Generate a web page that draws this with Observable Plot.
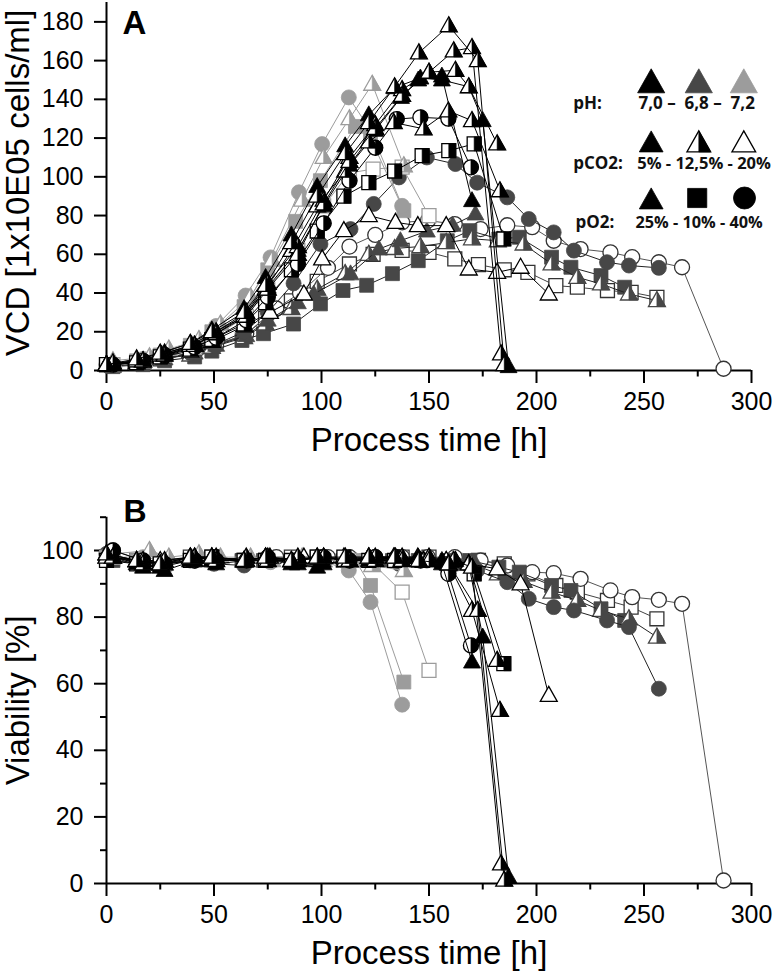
<!DOCTYPE html>
<html><head><meta charset="utf-8">
<script src="https://cdn.jsdelivr.net/npm/d3@7"></script>
<script src="https://cdn.jsdelivr.net/npm/@observablehq/plot@0.6"></script>
<style>
body{margin:0;background:#fff;}
#chart svg{display:block;}
</style></head><body><div id="chart"></div>
<script>
// ---------- axis ticks ----------
const TICKS_X = [0,50,100,150,200,250,300];
const MINOR_X = [25,75,125,175,225,275];
const TICKS_VCD = [0,20,40,60,80,100,120,140,160,180];
const TICKS_VIA = [0,20,40,60,80,100];
const MINOR_VIA = [10,30,50,70,90,110];

// ---------- data (time [h], VCD [1x10E05 cells/ml], viability [%]) ----------
// black open square
const t_oSq   = [0,14,25,39,49,64,74,86,98,113,124,137.5,150,162,173,185,196,209,219,233,244,256];
const vcd_oSq = [3,4,6,9,13,18,27,36,46,55,60,62,61,57.6,54.7,52,50.7,43.8,43,41.3,40.4,37.8];
const via_oSq = [98,97,96,98,98,97,97,98,98,97,97,98,98,97,97,96,93,89.5,87.5,85,83,79.5];
// black open circle
const t_oCirc   = [3,17,27,41,51,65,79,90,103,113,125,137.5,149.5,162,174,186.4,198,208,220.5,234.4,244.5,256.9,267.7,287];
const vcd_oCirc = [3,4,6,9,13,19,32,40,53,64,70,76.5,77.4,75.6,73,75,74,67,62.7,61,58.5,55.9,53.3,0.9];
const via_oCirc = [100,97,96,97,98,97,98,97,98,98,98,98,98,98,97,95.5,93.5,93.2,91.5,88,86,85.2,84,0.9];
// dark grey square
const t_dSq   = [3,17,27,41,49,63,73,87,99.5,110,121,133,145,158.5,169,182.5,192,207,216,230,241];
const vcd_dSq = [2,3,5,7,10,15.5,19,24,34.4,41.3,44,50,56.7,67,72.2,67.9,68.8,58.5,53.3,49,43];
const via_dSq = [97,96,96,97,97,97,97,97,97,97,97,97,97,97,97,95,93.5,89.5,88,82.5,79];
// dark grey half triangle
const t_dHT   = [0,14,25,39,49,64,74,86,98,111,122,134,146,158,170,182,194,207,219,230,243,256];
const vcd_dHT = [3,4,6,8,12,17,24,32,42,50,60,63,64,66,68,67,65.3,55,48.1,44.7,39.5,36.1];
const via_dHT = [98,97,96,97,97,97,98,97,97,98,98,97,97,97,96,93,90.7,87.5,85,82,79.5,74];
// dark grey triangle
const t_dT   = [3,17,27,41,51,65,75,89,96.4,113.5,126.7,136.7,149,161,171.6];
const vcd_dT = [2,4,6,9,13,18,26,35,39.5,49.9,62.7,67,72,75,80.8];
const via_dT = [98,97,96,97,97,97,97,97,97,97,97,97,97,97,96];
// dark grey circle
const t_dCirc   = [0,14,25,39,50,64,75,87,99.5,113.5,124.3,136,149,162.3,172.4,186.4,196.4,208,217.4,232.8,243,256.9];
const vcd_dCirc = [3,4,6,9,13,20,30,45,65.3,73,86,99.7,110,106.6,97,89.4,78.2,71.3,61.9,55.9,54.2,53];
const via_dCirc = [99,97,96,97,96,95.5,97,97,97,97,97,96,97,96,94,90.5,85.5,83,82,79,77,58.5];
// light grey circle
const t_lCirc   = [3,17,27,41,51,64.7,76.3,89.5,100.3,112.7,122.8,137.5];
const vcd_lCirc = [3,6,9,14,23,38.7,58.4,92,116.9,141,124,85];
const via_lCirc = [98,98,97,98,97,97,96.5,97,97,94,84.5,53.7];
// light grey square
const t_lSq   = [0,14,25,39,49,64,75,88,99.5,115.8,122.8,138.3];
const vcd_lSq = [3,5,8,13,20,33,52,77,98,126,120,82.5];
const via_lSq = [98,97,96,97,97,97,97,97,98,97,89.5,60.5];
// light grey open square
const t_lOSq   = [3,17,27,41,51,65,75,89,101,113,124,137.5,150];
const vcd_lOSq = [3,5,8,12,18,28,42,62,85,102,104,105,80];
const via_lOSq = [98,97,96,97,97,97,97,97,97,97,96,87.5,64];
// light grey half triangle
const t_lHT   = [3,20,29,43,53,67,77,91,101,113,123.6,138.3];
const vcd_lHT = [5,7,11,16,24,38,57,88,110,130,147.8,105.7];
const via_lHT = [99,100,98,99,98,98,97,98,97,97,95.5,94];
// black open triangle
const t_kOT   = [0,14,25,39,49,64,76,91.8,100.3,110.4,122,134.4,144.8,158,168.5,181.7,192.6,205.7];
const vcd_kOT = [3,4,7,10,15,23,30,39.5,57.6,72.2,80,76.5,74.8,74.8,52.4,50.7,53.3,39.5];
const via_kOT = [99,97,97,98,98,97,98,98,97,98,98,98,98,97,96,94.5,90,56.5];
// black half square
const t_kHS   = [0,14,25,39,49,64,74,86,98,110.4,122,134,146.8,159.2,171,184.8];
const vcd_kHS = [3,4,7,11,16,24,35,52,72,90,97,103,110.9,113.5,117,67.9];
const via_kHS = [97,96,96,97,98,97,97,97,98,98,97,97,97,96,93,66];
// black half circle
const t_kHC   = [3,17,27,41,51,65,75,89,101,113,125,135,146,159,169.5];
const vcd_kHC = [3,5,8,12,17,26,38,55,76,98,115,129.8,130.7,130,104.9];
const via_kHC = [100,97,96,97,97,97,98,97,98,97,98,98,97,93,71.5];
// black triangle (short)
const t_kT2   = [3,17,27,41,51,65,75,89,101,113,125,137,145,156,170];
const vcd_kT2 = [3,5,8,13,19,29,43,62,85,106,124,141,150,152,87.7];
const via_kT2 = [98,95,94,97,96,97,97,96,96,97,97,97,98,96,66.5];
// black triangle (long)
const t_kT   = [0,14,25,39,49,64,74,86,98,111,122,134,146,156,168.5,175,187];
const vcd_kT = [3,5,9,14,21,32,48,70,95,116,132,146,151,150,146.5,129,2];
const via_kT = [99,96,95,97,97,97,98,96,95,97,97,98,97,97,96,74,1.9];
// black half triangles (centre point replicates)
const t_kHT3   = [0,14,25,39,49,64,74,86,98,111,122,133.6,147.5,159,170,183];
const vcd_kHT3 = [3,5,8,13,19,28,42,62,85,103,118,128,124.8,134,129,92.8];
const via_kHT3 = [98,97,96,98,98,97,98,97,98,97,98,98,97,96,82,52];
const t_kHT4   = [3,17,27,41,51,65,75,89,101,113,125,137.5,150,162.3,168.5,181.7];
const vcd_kHT4 = [3,5,9,13,20,30,45,64,88,110,127,145,154,155,146.5,117];
const via_kHT4 = [98,97,96,98,98,97,98,97,98,97,97,98,98,97,96,67];
const t_kHT2   = [3,17,27,41,51,65,75,89,101,113,125,137.5,150,161.5,170,183.5];
const vcd_kHT2 = [4,5,8,13,19,28,42,60,86,108,125,142,154,165,166.7,8.6];
const via_kHT2 = [98,96,97,98,97,98,97,98,98,97,98,97,97,97,95,5.9];
const t_kHT1   = [0,14,25,39,49,64,74,86,98,111,122,134,145.3,159.2,172.7,185];
const vcd_kHT1 = [3,6,9,14,20,30,44,66,90,112,128,146.5,164,178,160,3];
const via_kHT1 = [99,97,96,98,98,97,98,97,98,98,98,98,97,96,82,1];

// legend texts
const LEG_LABELS = ["pH:", "pCO2:", "pO2:"];
const LEG_VALUES = ["7,0 \u2013\u00a0 6,8 \u2013\u00a0 7,2", "5% - 12,5% - 20%", "25% - 10% - 40%"];

// ---------- styles ----------
const K = "#000000", D = "#474747", L = "#9c9c9c";
const series = [
  {shape:"square", fill:"open", color:"#333", line:"#444", t:t_oSq, vcd:vcd_oSq, via:via_oSq},
  {shape:"circle", fill:"open", color:"#333", line:"#555", t:t_oCirc, vcd:vcd_oCirc, via:via_oCirc},
  {shape:"square", fill:"full", color:D, line:"#222", t:t_dSq, vcd:vcd_dSq, via:via_dSq},
  {shape:"tri", fill:"half", color:D, line:"#222", t:t_dHT, vcd:vcd_dHT, via:via_dHT},
  {shape:"tri", fill:"full", color:D, line:"#222", t:t_dT, vcd:vcd_dT, via:via_dT},
  {shape:"circle", fill:"full", color:D, line:"#222", t:t_dCirc, vcd:vcd_dCirc, via:via_dCirc},
  {shape:"square", fill:"full", color:L, line:L, t:t_lSq, vcd:vcd_lSq, via:via_lSq},
  {shape:"square", fill:"open", color:L, line:L, t:t_lOSq, vcd:vcd_lOSq, via:via_lOSq},
  {shape:"circle", fill:"full", color:L, line:L, t:t_lCirc, vcd:vcd_lCirc, via:via_lCirc},
  {shape:"tri", fill:"half", color:L, line:L, t:t_lHT, vcd:vcd_lHT, via:via_lHT},
  {shape:"tri", fill:"open", color:K, line:K, t:t_kOT, vcd:vcd_kOT, via:via_kOT},
  {shape:"square", fill:"half", color:K, line:K, t:t_kHS, vcd:vcd_kHS, via:via_kHS},
  {shape:"circle", fill:"half", color:K, line:K, t:t_kHC, vcd:vcd_kHC, via:via_kHC},
  {shape:"tri", fill:"full", color:K, line:K, t:t_kT2, vcd:vcd_kT2, via:via_kT2},
  {shape:"tri", fill:"full", color:K, line:K, t:t_kT, vcd:vcd_kT, via:via_kT},
  {shape:"tri", fill:"half", color:K, line:K, t:t_kHT3, vcd:vcd_kHT3, via:via_kHT3},
  {shape:"tri", fill:"half", color:K, line:K, t:t_kHT4, vcd:vcd_kHT4, via:via_kHT4},
  {shape:"tri", fill:"half", color:K, line:K, t:t_kHT2, vcd:vcd_kHT2, via:via_kHT2},
  {shape:"tri", fill:"half", color:K, line:K, t:t_kHT1, vcd:vcd_kHT1, via:via_kHT1}
];

function makeSym(shape, half) {
  return {draw(ctx, size) {
    const r = Math.sqrt(size / Math.PI);
    if (shape === "tri") {
      const a = -1.2 * r, b = 0.8 * r, w = 1.13 * r;
      ctx.moveTo(0, a); ctx.lineTo(w, b); ctx.lineTo(half ? 0 : -w, b); ctx.closePath();
    } else if (shape === "square") {
      const h = 0.93 * r;
      if (half) ctx.rect(0, -h, h, 2 * h); else ctx.rect(-h, -h, 2 * h, 2 * h);
    } else {
      if (half) { ctx.moveTo(0, -r); ctx.arc(0, 0, r, -Math.PI / 2, Math.PI / 2); ctx.closePath(); }
      else { ctx.moveTo(r, 0); ctx.arc(0, 0, r, 0, 2 * Math.PI); ctx.closePath(); }
    }
  }};
}
const SYM = {};
for (const s of ["tri", "square", "circle"]) SYM[s] = {full: makeSym(s, false), half: makeSym(s, true)};

const R = 7.5;
function markerMarks(data, opts, shape, fill, color, r) {
  const m = [];
  if (fill === "full") {
    m.push(Plot.dot(data, {...opts, r, symbol: SYM[shape].full, fill: color, stroke: color, strokeWidth: 0.8}));
  } else {
    m.push(Plot.dot(data, {...opts, r, symbol: SYM[shape].full, fill: "white", stroke: color, strokeWidth: 1.3}));
    if (fill === "half") m.push(Plot.dot(data, {...opts, r, symbol: SYM[shape].half, fill: color, stroke: color, strokeWidth: 0.6}));
  }
  return m;
}
function seriesMarks(key) {
  const marks = [];
  for (const s of series) {
    const rows = s.t.map((t, i) => ({t, v: s[key][i]}));
    marks.push(Plot.line(rows, {x: "t", y: "v", stroke: s.line, strokeWidth: 1}));
    marks.push(...markerMarks(rows, {x: "t", y: "v"}, s.shape, s.fill, s.color, R));
  }
  return marks;
}

const FONT = "'Liberation Sans', Arial, Helvetica, sans-serif";
function axes(yTicks, yMinor) {
  const m = [
    Plot.axisX(TICKS_X, {tickSize: 13, tickPadding: 9, strokeWidth: 2, fontSize: 25, label: null}),
    Plot.axisX(MINOR_X, {tickSize: 6.5, strokeWidth: 2, tickFormat: () => "", label: null}),
    Plot.axisY(yTicks, {tickSize: 12, tickPadding: 11, strokeWidth: 2, fontSize: 25, label: null})
  ];
  if (yMinor) m.push(Plot.axisY(yMinor, {tickSize: 6, strokeWidth: 2, tickFormat: () => "", label: null}));
  m.push(Plot.ruleY([0], {strokeWidth: 2}), Plot.ruleX([0], {strokeWidth: 2}));
  return m;
}
function txt(s, o) { return Plot.text([s], {text: d => d, fontFamily: FONT, fill: "black", ...o}); }

// legend (positions relative to the frame's top-left corner)
function legendMarks() {
  const m = [];
  const xs = [544.7, 592.3, 637.3];
  const cols = [K, D, L];
  xs.forEach((dx, i) => m.push(...markerMarks([0], {frameAnchor: "top-left", dx, dy: 80.7}, "tri", "full", cols[i], 12)));
  const fills = ["full", "half", "open"];
  xs.forEach((dx, i) => m.push(...markerMarks([0], {frameAnchor: "top-left", dx, dy: 141}, "tri", fills[i], K, 10.5)));
  m.push(...markerMarks([0], {frameAnchor: "top-left", dx: 544.7, dy: 198}, "tri", "full", K, 10.5));
  m.push(...markerMarks([0], {frameAnchor: "top-left", dx: 590.7, dy: 195.5}, "square", "full", K, 10.3));
  m.push(...markerMarks([0], {frameAnchor: "top-left", dx: 638, dy: 195.5}, "circle", "full", K, 11));
  const ys = [101, 161, 220];
  const lx = [466.7, 466.7, 469];
  const vx = [532, 530.7, 529];
  const sizes = [17, 16.5, 16.3];
  ys.forEach((dy, i) => {
    m.push(Plot.text([LEG_LABELS[i]], {text: d => d, frameAnchor: "top-left", dx: lx[i], dy, textAnchor: "start", lineAnchor: "middle", fontFamily: "'Open Sans', sans-serif", fontWeight: 700, fontSize: 17, fill: "#111"}));
    m.push(Plot.text([LEG_VALUES[i]], {text: d => d, frameAnchor: "top-left", dx: vx[i], dy, textAnchor: "start", lineAnchor: "middle", fontFamily: "'Open Sans', sans-serif", fontWeight: 700, fontSize: sizes[i], fill: "#111"}));
  });
  return m;
}

const style = {fontFamily: FONT, fontSize: "25px", color: "black", background: "white", overflow: "visible"};

const chartA = Plot.plot({
  width: 774, height: 470,
  marginTop: 2, marginLeft: 106, marginRight: 23, marginBottom: 100,
  x: {domain: [0, 300]}, y: {domain: [0, 190]},
  style,
  marks: [
    ...axes(TICKS_VCD, null),
    ...seriesMarks("vcd"),
    ...legendMarks(),
    txt("A", {frameAnchor: "top-left", dx: 16, dy: 8, lineAnchor: "top", textAnchor: "start", fontSize: 33, fontWeight: "bold"}),
    txt("VCD [1x10E05 cells/ml]", {frameAnchor: "left", textAnchor: "middle", lineAnchor: "middle", dx: -88, dy: -3.5, rotate: -90, fontSize: 33}),
    txt("Process time [h]", {frameAnchor: "bottom", textAnchor: "middle", lineAnchor: "middle", dy: 70, fontSize: 33})
  ]
});

const chartB = Plot.plot({
  width: 774, height: 503,
  marginTop: 46.7, marginLeft: 106, marginRight: 23, marginBottom: 90,
  x: {domain: [0, 300]}, y: {domain: [0, 110]},
  style,
  marks: [
    ...axes(TICKS_VIA, MINOR_VIA),
    ...seriesMarks("via"),
    txt("B", {frameAnchor: "top-left", dx: 17, dy: -17.5, lineAnchor: "top", textAnchor: "start", fontSize: 32, fontWeight: "bold"}),
    txt("Viability [%]", {frameAnchor: "left", textAnchor: "middle", lineAnchor: "middle", dx: -88, dy: 0, rotate: -90, fontSize: 33}),
    txt("Process time [h]", {frameAnchor: "bottom", textAnchor: "middle", lineAnchor: "middle", dy: 70, fontSize: 33})
  ]
});

document.getElementById("chart").append(chartA, chartB);
</script>
</body></html>
